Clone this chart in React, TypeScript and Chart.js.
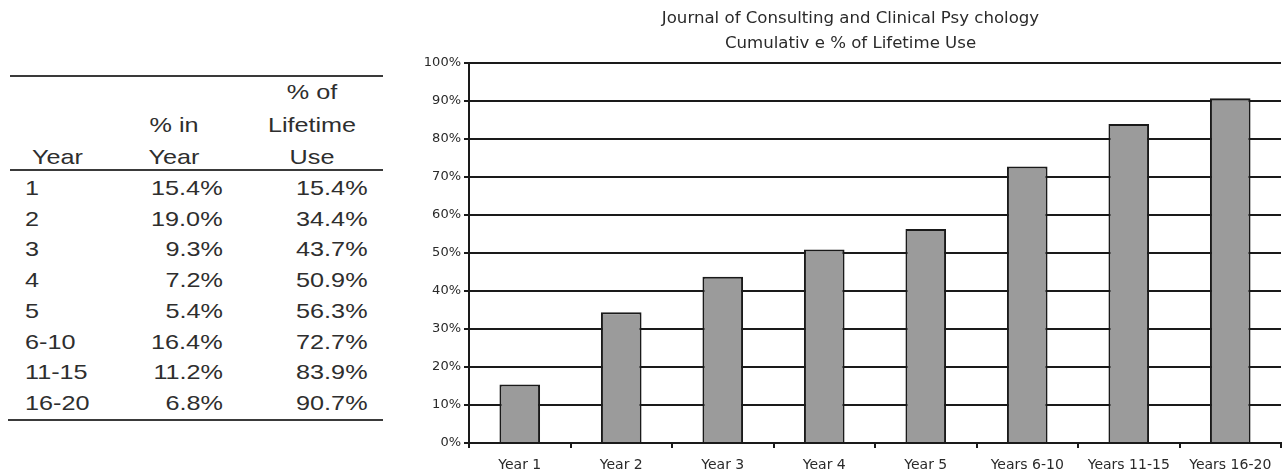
import React, { useEffect, useRef } from "react";
import { Chart, registerables } from "chart.js";

Chart.register(...registerables);

const years = ["1", "2", "3", "4", "5", "6-10", "11-15", "16-20"];
const pctInYear = [15.4, 19.0, 9.3, 7.2, 5.4, 16.4, 11.2, 6.8];
const pctLifetime = [15.4, 34.4, 43.7, 50.9, 56.3, 72.7, 83.9, 90.7];
const categoryLabels = [
  "Year 1",
  "Year 2",
  "Year 3",
  "Year 4",
  "Year 5",
  "Years 6-10",
  "Years 11-15",
  "Years 16-20",
];
const titleLines = [
  "Journal of Consulting and Clinical Psy chology",
  "Cumulativ e % of Lifetime Use",
];
const yMin = 0;
const yMax = 100;
const yStep = 10;

const TEXT_COLOR = "#2e2e2e";
const LINE_COLOR = "#3a3a3a";
const FONT = "'Liberation Sans', Arial, sans-serif";
const CANVAS_FONT = "'DejaVu Sans', sans-serif";
const FS = 21;
const LH = 26;
const SX = 1.2;

type Align = "left" | "right" | "center";

function T({ x, cy, align, children }: { x: number; cy: number; align: Align; children: React.ReactNode }) {
  const base: React.CSSProperties = {
    position: "absolute",
    top: cy - LH / 2,
    height: LH,
    lineHeight: LH + "px",
    fontFamily: FONT,
    fontSize: FS,
    color: TEXT_COLOR,
    whiteSpace: "nowrap",
  };
  if (align === "left") {
    return (
      <div style={{ ...base, left: x, transform: `scaleX(${SX})`, transformOrigin: "left center" }}>{children}</div>
    );
  }
  if (align === "right") {
    return (
      <div style={{ ...base, right: 1282 - x, transform: `scaleX(${SX})`, transformOrigin: "right center" }}>
        {children}
      </div>
    );
  }
  return (
    <div style={{ ...base, left: x, transform: `translateX(-50%) scaleX(${SX})`, transformOrigin: "center center" }}>
      {children}
    </div>
  );
}

function HLine({ x1, x2, y }: { x1: number; x2: number; y: number }) {
  return (
    <div
      style={{
        position: "absolute",
        left: x1,
        top: y - 1,
        width: x2 - x1,
        height: 1.6,
        background: LINE_COLOR,
      }}
    />
  );
}

function Table() {
  const rowStart = 188;
  const rowGap = 30.7;
  return (
    <>
      <HLine x1={10} x2={383} y={76} />
      <T x={312} cy={92} align="center">% of</T>
      <T x={174} cy={125} align="center">% in</T>
      <T x={312} cy={125} align="center">Lifetime</T>
      <T x={32} cy={157} align="left">Year</T>
      <T x={174} cy={157} align="center">Year</T>
      <T x={312} cy={157} align="center">Use</T>
      <HLine x1={10} x2={383} y={170} />
      {years.map((yr, i) => (
        <React.Fragment key={yr}>
          <T x={25} cy={rowStart + i * rowGap} align="left">{yr}</T>
          <T x={223} cy={rowStart + i * rowGap} align="right">{pctInYear[i].toFixed(1) + "%"}</T>
          <T x={368} cy={rowStart + i * rowGap} align="right">{pctLifetime[i].toFixed(1) + "%"}</T>
        </React.Fragment>
      ))}
      <HLine x1={8} x2={383} y={420} />
    </>
  );
}

function BarChart() {
  const ref = useRef<HTMLCanvasElement | null>(null);
  useEffect(() => {
    if (!ref.current) return;
    const chart = new Chart(ref.current, {
      type: "bar",
      data: {
        labels: categoryLabels,
        datasets: [
          {
            data: pctLifetime,
            backgroundColor: "#9b9b9b",
            borderColor: "#1a1a1a",
            borderWidth: 2,
            barPercentage: 0.4,
            categoryPercentage: 1,
          },
        ],
      },
      options: {
        animation: false,
        responsive: true,
        maintainAspectRatio: false,
        layout: { padding: { left: 0, right: 1, top: 0, bottom: 1 } },
        plugins: {
          legend: { display: false },
          tooltip: { enabled: false },
          title: {
            display: true,
            text: titleLines,
            color: "#2a2a2a",
            font: { family: CANVAS_FONT, size: 16.6, weight: "normal", lineHeight: 1.47 },
            padding: { top: 6.8, bottom: 7.2 },
          },
        },
        scales: {
          x: {
            offset: true,
            afterFit: (scale: any) => {
              scale.height = 30;
            },
            grid: {
              display: true,
              drawOnChartArea: false,
              drawTicks: true,
              tickLength: 5,
              color: "#1a1a1a",
              lineWidth: 2,
            },
            border: { display: true, color: "#1a1a1a", width: 2 },
            ticks: {
              color: "#2a2a2a",
              padding: 9,
              maxRotation: 0,
              autoSkip: false,
              font: { family: CANVAS_FONT, size: 14 },
            },
          },
          y: {
            min: yMin,
            max: yMax,
            afterFit: (scale: any) => {
              scale.width = 49;
            },
            grid: {
              display: true,
              drawOnChartArea: true,
              drawTicks: true,
              tickLength: 5,
              color: "#1a1a1a",
              lineWidth: 2,
            },
            border: { display: true, color: "#1a1a1a", width: 2 },
            ticks: {
              stepSize: yStep,
              color: "#2a2a2a",
              padding: 3,
              font: { family: CANVAS_FONT, size: 13 },
              callback: (v: any) => v + "%",
            },
          },
        },
      },
    });
    return () => chart.destroy();
  }, []);
  return (
    <div style={{ position: "absolute", left: 420, top: 0, width: 862, height: 474 }}>
      <canvas ref={ref} />
    </div>
  );
}

export default function App() {
  return (
    <div
      style={{
        position: "absolute",
        left: 0,
        top: 0,
        width: 1282,
        height: 474,
        background: "#fff",
        overflow: "hidden",
      }}
    >
      <Table />
      <BarChart />
    </div>
  );
}
